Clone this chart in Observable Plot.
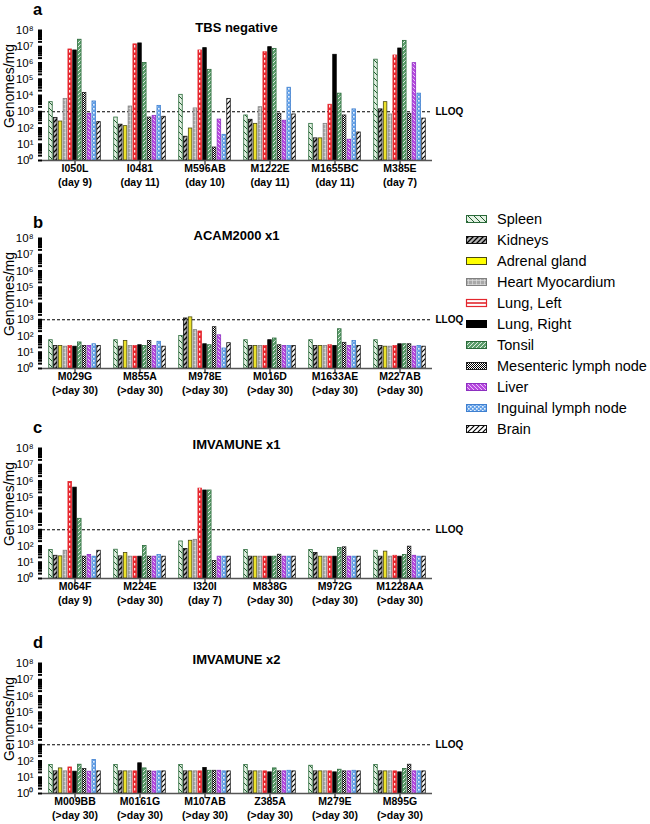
<!DOCTYPE html>
<html><head><meta charset="utf-8">
<script src="https://cdn.jsdelivr.net/npm/d3@7"></script>
<script src="https://cdn.jsdelivr.net/npm/@observablehq/plot@0.6"></script>
<style>
body{margin:0;width:650px;height:824px;position:relative;overflow:hidden;background:#fff;font-family:"Liberation Sans",Arial,sans-serif}
.panel{position:absolute;left:0}
#overlay{position:absolute;left:0;top:0;pointer-events:none}
</style></head><body>
<div id="root"></div>
<script>
// ---------- data ----------
const organs = ["Spleen","Kidneys","Adrenal gland","Heart Myocardium","Lung, Left","Lung, Right","Tonsil","Mesenteric lymph node","Liver","Inguinal lymph node","Brain"];
const lloq = 1000;
const letters = ["a","b","c","d"];
const titles = ["TBS negative","ACAM2000 x1","IMVAMUNE x1","IMVAMUNE x2"];
const yLabel = "Genomes/mg";

const groupsA = ["I050L","I0481","M596AB","M1222E","M1655BC","M385E"];
const daysA = ["(day 9)","(day 11)","(day 10)","(day 11)","(day 11)","(day 7)"];
const valuesA = [
  [3900,420,250,6200,6.8e6,5.9e6,2.7e7,1.45e4,750,4300,230],
  [440,160,130,2100,1.4e7,1.6e7,1.0e6,440,560,2300,490],
  [1.1e4,29,93,1600,5.9e6,8.2e6,3.8e5,6.3,330,38,6200],
  [590,320,180,1900,4.6e6,9.4e6,7.4e6,750,280,3.0e4,680],
  [180,23,23,180,2700,3.2e6,1.3e4,590,19,1400,53],
  [1.6e6,1400,3900,680,2.9e6,7.8e6,2.3e7,750,9.8e5,1.3e4,380]
];

const groupsB = ["M029G","M855A","M978E","M016D","M1633AE","M227AB"];
const daysB = ["(>day 30)","(>day 30)","(>day 30)","(>day 30)","(>day 30)","(>day 30)"];
const valuesB = [
  [55,24,24,22,24,22,40,24,24,31,24],
  [55,22,50,24,24,27,24,50,24,44,22],
  [100,1200,1400,230,190,31,27,350,110,17,36],
  [55,24,24,24,24,55,70,27,24,24,24],
  [55,24,24,24,27,24,260,38,24,50,24],
  [55,24,22,22,24,31,31,31,22,24,22]
];

const groupsC = ["M064F","M224E","I320I","M838G","M972G","M1228AA"];
const daysC = ["(day 9)","(>day 30)","(day 7)","(>day 30)","(>day 30)","(>day 30)"];
const valuesC = [
  [56,25,23,51,8.7e5,3.9e5,4700,22,28,22,51],
  [59,23,37,22,22,22,100,22,22,28,22],
  [190,65,210,240,3.4e5,2.6e5,2.6e5,12,22,22,22],
  [56,22,22,22,22,22,22,29,22,22,22],
  [56,37,22,22,22,22,75,83,22,22,22],
  [51,22,45,22,25,22,28,91,25,22,22]
];

const groupsD = ["M009BB","M0161G","M107AB","Z385A","M279E","M895G"];
const daysD = ["(>day 30)","(>day 30)","(>day 30)","(>day 30)","(>day 30)","(>day 30)"];
const valuesD = [
  [57,23,35,23,40,22,59,32,22,115,23],
  [57,23,23,23,23,72,35,23,22,23,23],
  [57,23,23,23,23,37,25,25,25,23,23],
  [57,23,23,23,23,20,35,23,23,25,23],
  [51,23,23,23,23,20,29,23,23,25,23],
  [57,23,23,23,23,20,32,59,23,23,23]
];

// ---------- styles ----------
const fills = ["url(#pat0)","url(#pat1)","#eee22a","url(#pat3)","#e8262e","#000000","url(#pat6)","url(#pat7)","url(#pat8)","url(#pat9)","url(#pat10)"];
const strokes = ["#2a6a3a","#111111","#4a4a10","#808080","#e3262d","#000000","#2a6a3a","#222222","#8c2fc0","#3f7fcf","#111111"];
const FONT = "Liberation Sans, Arial, sans-serif";

const W = 650, H = 824;
const ov = d3.select("body").append("svg").attr("id","overlay").attr("width",W).attr("height",H);
ov.append("defs").html(`
<pattern id="pat0" patternUnits="userSpaceOnUse" width="6" height="6"><rect width="6" height="6" fill="#e4f2e4"/><path d="M0,0L6,6M-1,5L1,7M5,-1L7,1" stroke="#1f5a2e" stroke-width="1"/></pattern>
<pattern id="pat1" patternUnits="userSpaceOnUse" width="5" height="5"><rect width="5" height="5" fill="#b4b4b4"/><path d="M0,5L5,0M-1,1L1,-1M4,6L6,4" stroke="#000" stroke-width="1.3"/></pattern>
<pattern id="pat3" patternUnits="userSpaceOnUse" width="4" height="4"><rect width="4" height="4" fill="#a8a8a8"/><path d="M0,0.5H4M0.5,0V4" stroke="#e2e2e2" stroke-width="0.6"/></pattern>
<pattern id="pat6" patternUnits="userSpaceOnUse" width="4" height="4"><rect width="4" height="4" fill="#5c9e6c"/><path d="M0,4L4,0M-1,1L1,-1M3,5L5,3" stroke="#fff" stroke-width="0.8"/></pattern>
<pattern id="pat7" patternUnits="userSpaceOnUse" width="2" height="2"><rect width="2" height="2" fill="#fff"/><rect width="1" height="1" fill="#000"/><rect x="1" y="1" width="1" height="1" fill="#000"/></pattern>
<pattern id="pat8" patternUnits="userSpaceOnUse" width="4" height="4"><rect width="4" height="4" fill="#b848e0"/><path d="M0,0L4,4M-1,3L1,5M3,-1L5,1" stroke="#f6e6ff" stroke-width="0.8"/></pattern>
<pattern id="pat9" patternUnits="userSpaceOnUse" width="4" height="4"><rect width="4" height="4" fill="#62a0e8"/><rect width="1.6" height="1.6" fill="#fff" opacity="0.85"/><rect x="2" y="2" width="1.6" height="1.6" fill="#fff" opacity="0.85"/></pattern>
<pattern id="pat10" patternUnits="userSpaceOnUse" width="5" height="5"><rect width="5" height="5" fill="#fff"/><path d="M0,5L5,0M-1,1L1,-1M4,6L6,4" stroke="#000" stroke-width="1.2"/></pattern>
<pattern id="wdash" patternUnits="userSpaceOnUse" width="1" height="5"><rect width="1" height="2.5" fill="#fff"/></pattern>
`);

const sup = {"0":"⁰","1":"¹","2":"²","3":"³","4":"⁴","5":"⁵","6":"⁶","7":"⁷","8":"⁸","9":"⁹"};
const yTicks = [];
for (let k = 0; k < 8; k++) for (let m = 1; m < 10; m++) yTicks.push(m * 10 ** k);
yTicks.push(1e8);
const yFmt = d => { const e = Math.log10(d); return Math.abs(e - Math.round(e)) < 1e-9 ? "10" + sup[String(Math.round(e))] : ""; };

const panels = [
  {groups: groupsA, days: daysA, values: valuesA, top: 0},
  {groups: groupsB, days: daysB, values: valuesB, top: 208},
  {groups: groupsC, days: daysC, values: valuesC, top: 418},
  {groups: groupsD, days: daysD, values: valuesD, top: 633}
];

panels.forEach((p, pi) => {
  const rows = p.groups.flatMap((g, i) => organs.map((o, j) => ({group: g, organ: o, value: p.values[i][j]})));
  const labels = p.groups.map((g, i) => ({group: g, day: p.days[i]}));
  const chart = Plot.plot({
    width: 470, height: 191,
    marginLeft: 41, marginRight: 38, marginTop: 30, marginBottom: 31,
    style: {fontFamily: FONT, fontSize: "11px", color: "#000", background: "none", overflow: "visible"},
    fx: {domain: p.groups, padding: 0, label: null, axis: "bottom", tickSize: 5, tickFormat: () => ""},
    x: {domain: organs, axis: null, paddingInner: 0.27, paddingOuter: 1.4, round: false},
    y: {type: "log", domain: [1, 1e8]},
    marks: [
      Plot.axisY({ticks: yTicks, tickFormat: yFmt, tickSize: 4, tickPadding: 5, label: null, line: true, strokeWidth: 2, fontSize: 11.5}),
      Plot.ruleY([lloq], {stroke: "#000", strokeWidth: 1, strokeDasharray: "3,2"}),
      ...organs.map((o, j) => Plot.barY(rows.filter(r => r.organ === o), {
        fx: "group", x: "organ", y1: 1, y2: "value", fill: fills[j], stroke: strokes[j], strokeWidth: 0.8
      })),
      Plot.barY(rows.filter(r => r.organ === "Lung, Left"), {fx: "group", x: "organ", y1: 1, y2: "value", fill: "url(#wdash)", insetLeft: 1.2, insetRight: 1.2}),
      Plot.ruleY([1], {stroke: "#555", strokeWidth: 1.5}),
      Plot.text(labels, {fx: "group", text: "group", frameAnchor: "bottom", dy: 11, fontWeight: "bold", fontSize: 10.5}),
      Plot.text(labels, {fx: "group", text: "day", frameAnchor: "bottom", dy: 25, fontWeight: "bold", fontSize: 10.5}),
      Plot.text([labels[labels.length - 1]], {fx: "group", y: () => lloq, frameAnchor: "right", textAnchor: "start", dx: 3, text: () => "LLOQ", fontWeight: "bold", fontSize: 10})
    ]
  });
  chart.classList.add("panel");
  chart.style.top = p.top + "px";
  document.getElementById("root").appendChild(chart);
});

// letters, titles, y-axis labels
const letterBase = [15, 228, 433, 648];
const titleBase = [32, 240, 449, 664];
letters.forEach((l, i) => {
  ov.append("text").attr("x", 33).attr("y", letterBase[i]).attr("font-size", 16.5).attr("font-weight", "bold").attr("font-family", FONT).text(l);
  ov.append("text").attr("x", 236.5).attr("y", titleBase[i]).attr("text-anchor", "middle").attr("font-size", 13).attr("font-weight", "bold").attr("font-family", FONT).text(titles[i]);
  const cy = panels[i].top + 30 + 56;
  ov.append("text").attr("transform", `translate(13.5,${cy}) rotate(-90)`).attr("text-anchor", "middle").attr("font-size", 14).attr("font-family", FONT).text(yLabel);
});

// legend
const lg = ov.append("g").attr("font-family", FONT).attr("font-size", 14.5);
organs.forEach((o, i) => {
  const cy = 219 + 21 * i;
  if (o === "Lung, Left") {
    lg.append("rect").attr("x", 466.5).attr("y", cy - 3.5).attr("width", 20).attr("height", 7).attr("fill", "#fff").attr("stroke", strokes[i]).attr("stroke-width", 1.2);
    lg.append("line").attr("x1", 466.5).attr("x2", 486.5).attr("y1", cy).attr("y2", cy).attr("stroke", strokes[i]).attr("stroke-width", 1.6);
  } else {
    lg.append("rect").attr("x", 466.5).attr("y", cy - 3.5).attr("width", 20).attr("height", 7).attr("fill", o === "Adrenal gland" ? "#ffff00" : fills[i]).attr("stroke", strokes[i]).attr("stroke-width", 1);
  }
  lg.append("text").attr("x", 497).attr("y", cy + 5).text(o);
});
</script>
</body></html>
